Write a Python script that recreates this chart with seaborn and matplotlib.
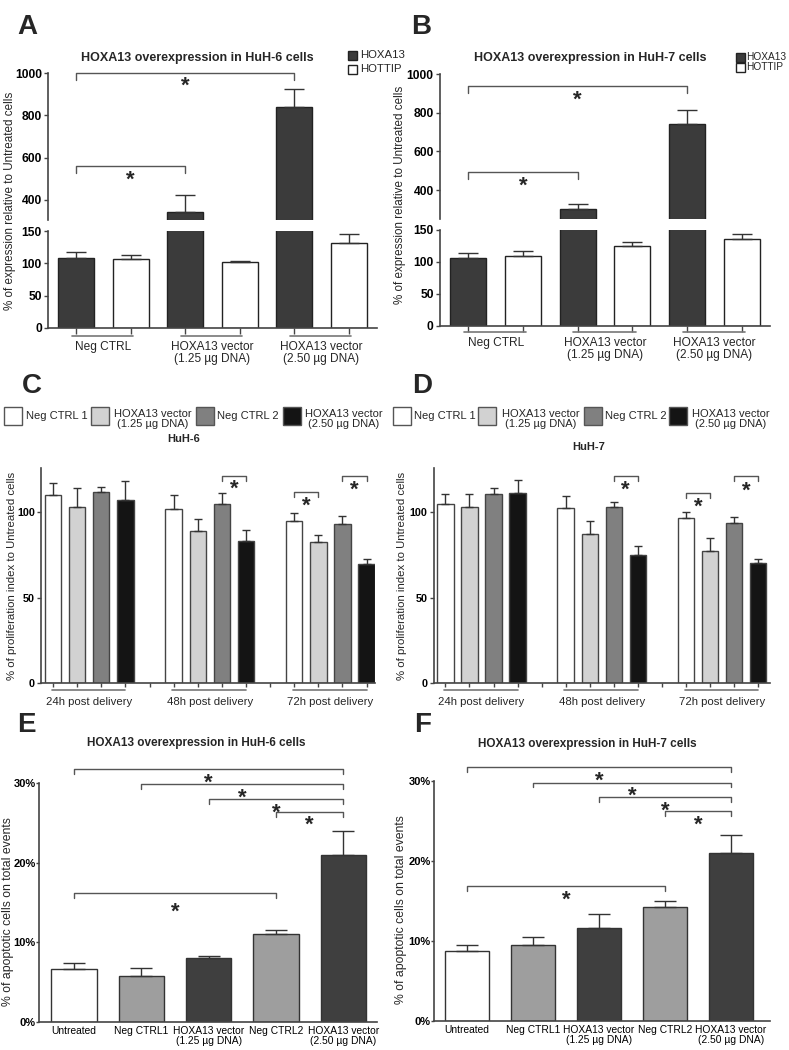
import numpy as np
import pandas as pd
import matplotlib
matplotlib.use("Agg")
import matplotlib.pyplot as plt
import seaborn as sns
from matplotlib.patches import Rectangle
from matplotlib.transforms import blended_transform_factory, offset_copy

# ---- A / B : HOXA13 and HOTTIP expression (% of untreated) ----
ab_groups = ["Neg CTRL", "HOXA13 vector\n(1.25 µg DNA)", "HOXA13 vector\n(2.50 µg DNA)"]
ab_genes = ["HOXA13", "HOTTIP"]
a_hoxa13 = [108, 342, 840]
a_hoxa13_err = [9, 82, 82]
a_hottip = [106, 102, 132]
a_hottip_err = [7, 2, 14]
b_hoxa13 = [107, 300, 741]
b_hoxa13_err = [7, 28, 72]
b_hottip = [110, 125, 136]
b_hottip_err = [7, 7, 8]

# ---- C / D : proliferation index ----
cd_times = ["24h post delivery", "48h post delivery", "72h post delivery"]
cd_conds = ["Neg CTRL 1", "HOXA13 vector\n(1.25 µg DNA)", "Neg CTRL 2", "HOXA13 vector\n(2.50 µg DNA)"]
c_neg1 = [110, 102, 95]
c_neg1_err = [7, 8, 4.5]
c_vec125 = [103, 89, 82.5]
c_vec125_err = [11, 7, 4]
c_neg2 = [112, 105, 93]
c_neg2_err = [3, 6.5, 5]
c_vec250 = [107, 83.5, 70]
c_vec250_err = [11.5, 6, 2.5]
d_neg1 = [104.7, 102.5, 96.9]
d_neg1_err = [6.3, 7.2, 3.5]
d_vec125 = [103.3, 87.3, 77.2]
d_vec125_err = [7.7, 7.7, 8]
d_neg2 = [111, 103, 93.6]
d_neg2_err = [3, 3, 3.9]
d_vec250 = [111.5, 75, 70.2]
d_vec250_err = [7.5, 5, 2.5]

# ---- E / F : apoptosis ----
ef_labels = ["Untreated", "Neg CTRL1", "HOXA13 vector\n(1.25 µg DNA)", "Neg CTRL2", "HOXA13 vector\n(2.50 µg DNA)"]
e_vals = [6.7, 5.8, 8.0, 11.0, 21.0]
e_err = [0.7, 1.0, 0.3, 0.6, 3.0]
f_vals = [8.8, 9.5, 11.6, 14.2, 21.0]
f_err = [0.7, 1.0, 1.8, 0.8, 2.2]

# brackets: (bar i, bar j, line height, star height)
a_brackets = [(0, 4, 1000, 967), (0, 2, 560, 527)]
b_brackets = [(0, 4, 938, 897), (0, 2, 495, 452)]
c_brackets = [(6, 7, 121.6, 117.5), (8, 9, 111.9, 107.6), (10, 11, 121.6, 117)]
d_brackets = [(6, 7, 121.1, 117), (8, 9, 111.3, 107), (10, 11, 121.1, 116.4)]
e_brackets = [(0, 4, 31.7, 30.8), (1, 4, 29.9, 28.9), (2, 4, 28.0, 27.1), (3, 4, 26.3, 25.5), (0, 3, 16.2, 14.6)]
f_brackets = [(0, 4, 31.7, 30.8), (1, 4, 29.8, 29.0), (2, 4, 28.0, 27.1), (3, 4, 26.2, 25.3), (0, 3, 16.9, 16.0)]

sns.set_theme(style="ticks")
plt.rcParams["font.family"] = ["Liberation Sans", "DejaVu Sans"]
plt.rcParams["axes.edgecolor"] = "#444444"
plt.rcParams["axes.linewidth"] = 1.2
plt.rcParams["xtick.color"] = "#444444"
plt.rcParams["ytick.color"] = "#444444"
plt.rcParams["xtick.labelcolor"] = "black"
plt.rcParams["ytick.labelcolor"] = "black"

W, H = 789, 1050
fig = plt.figure(figsize=(W / 100, H / 100), dpi=100)
fig.patch.set_facecolor("white")


def fy(py):
    return 1 - py / H


def ftext(px, py, s, **kw):
    fig.text(px / W, fy(py), s, **kw)


def px_axes(x0, y0, x1, y1):
    ax = fig.add_axes([x0 / W, 1 - y1 / H, (x1 - x0) / W, (y1 - y0) / H])
    ax.patch.set_alpha(0)
    return ax


def bar_centers(ax):
    bars = sorted((p for c in ax.containers for p in c), key=lambda p: p.get_x())
    return [p.get_x() + p.get_width() / 2 for p in bars], [p.get_height() for p in bars]


def add_err(ax, errs, cap):
    xs, hs = bar_centers(ax)
    ax.errorbar(xs, hs, yerr=[np.zeros(len(hs)), errs], fmt="none", ecolor="#333333",
                elinewidth=1, capsize=cap, capthick=1, zorder=3)
    return xs


def bracket(ax, xs, i, j, y, drop, ys, size=16):
    xa, xb = xs[i], xs[j]
    ax.plot([xa, xa, xb, xb], [y - drop, y, y, y - drop], color="#555555", lw=1, clip_on=False)
    tr = offset_copy(ax.transData, fig=fig, y=-0.55 * size, units="points")
    ax.text((xa + xb) / 2, ys, "*", ha="center", va="baseline", fontsize=size,
            fontweight="bold", transform=tr, clip_on=False)


def group_axis(ax, labels, line_y, span, label_y, fs, top=True):
    tr = blended_transform_factory(ax.transData, fig.transFigure)
    for g, lab in enumerate(labels):
        ax.plot([g + span[0], g + span[1]], [fy(line_y)] * 2, transform=tr,
                color="#777777", lw=1.2, clip_on=False)
        ax.text(g, fy(label_y), lab, transform=tr, ha="center",
                va="top" if top else "center", fontsize=fs, linespacing=1.05)


def expr_panel(xl, xr, top_px, bot_px, top_lim, hox, hox_err, hot, hot_err, brackets,
               line_y, span, drop):
    vals = [v for pair in zip(hox, hot) for v in pair]
    errs = [v for pair in zip(hox_err, hot_err) for v in pair]
    df = pd.DataFrame({"group": np.repeat(ab_groups, 2), "gene": ab_genes * 3, "value": vals})
    ax_t = px_axes(xl, top_px[0], xr, top_px[1])
    ax_b = px_axes(xl, bot_px[0], xr, bot_px[1])
    for ax in (ax_t, ax_b):
        sns.barplot(data=df, x="group", y="value", hue="gene", order=ab_groups, hue_order=ab_genes,
                    palette=["#3b3b3b", "white"], saturation=1, width=1.0, gap=0.34,
                    edgecolor="#222222", linewidth=1, errorbar=None, legend=False, ax=ax)
        xs = add_err(ax, errs, 7)
        ax.set_xlim(-0.51, 2.51)
        ax.set_xlabel("")
        ax.set_ylabel("")
        sns.despine(ax=ax)
        ax.tick_params(axis="y", length=3, width=1, pad=1.5)
    ax_t.set_ylim(top_lim, 1000)
    ax_t.set_yticks([400, 600, 800, 1000], labels=["400", "600", "800", "1000"],
                    fontweight="bold", fontsize=8.7)
    ax_t.spines["bottom"].set_visible(False)
    ax_t.tick_params(axis="x", bottom=False, labelbottom=False)
    ax_b.set_ylim(0, 150)
    ax_b.set_yticks([0, 50, 100, 150], labels=["0", "50", "100", "150"],
                    fontweight="bold", fontsize=8.7)
    ax_b.set_xticks(xs, labels=[""] * len(xs))
    ax_b.tick_params(axis="x", length=4, width=1)
    for i, j, y, ys in brackets:
        bracket(ax_t, xs, i, j, y, drop, ys)
    group_axis(ax_b, ab_groups, line_y, span, line_y + 5, 8.6)


def prolif_panel(xl, xr, xlim, series, series_err, brackets):
    vals, errs, times, conds = [], [], [], []
    for t in range(3):
        for k in range(4):
            vals.append(series[k][t])
            errs.append(series_err[k][t])
            times.append(cd_times[t])
            conds.append(cd_conds[k])
    df = pd.DataFrame({"time": times, "cond": conds, "value": vals})
    ax = px_axes(xl, 468, xr, 683)
    sns.barplot(data=df, x="time", y="value", hue="cond", order=cd_times, hue_order=cd_conds,
                palette=["white", "#d2d2d2", "#808080", "#141414"], saturation=1, width=0.8,
                gap=0.32, edgecolor="#444444", linewidth=1, errorbar=None, legend=False, ax=ax)
    xs = add_err(ax, errs, 3.2)
    ax.set_xlim(*xlim)
    ax.set_ylim(0, 126)
    ax.set_xlabel("")
    ax.set_ylabel("")
    sns.despine(ax=ax)
    ax.set_yticks([0, 50, 100], labels=["0", "50", "100"], fontweight="bold", fontsize=7.8)
    ax.set_xticks(np.arange(-0.3, 2.31, 0.2), labels=[""] * 14)
    ax.tick_params(axis="both", length=3, width=1, pad=1.5)
    for i, j, y, ys in brackets:
        bracket(ax, xs, i, j, y, 3, ys)
    group_axis(ax, cd_times, 690, (-0.31, 0.3), 702, 8.2, top=False)


def legend_cd(items):
    colors = ["white", "#d2d2d2", "#808080", "#141414"]
    for (bx, tx), col, lab in zip(items, colors, cd_conds):
        fig.add_artist(Rectangle((bx / W, fy(425)), 18 / W, 18 / H, transform=fig.transFigure,
                                 facecolor=col, edgecolor="#555555", lw=1))
        if "\n" in lab:
            ftext(tx, 409, lab, ha="left", va="top", fontsize=8, multialignment="center",
                  linespacing=1.0)
        else:
            ftext(tx, 416, lab, ha="left", va="center", fontsize=8)


def apopt_panel(xl, yt, xr, yb, xlim, vals, errs, brackets):
    df = pd.DataFrame({"label": ef_labels, "value": vals})
    ax = px_axes(xl, yt, xr, yb)
    sns.barplot(data=df, x="label", y="value", hue="label", order=ef_labels, hue_order=ef_labels,
                palette=["white", "#9e9e9e", "#3f3f3f", "#9e9e9e", "#3f3f3f"], saturation=1,
                width=0.67, edgecolor="#333333", linewidth=1, errorbar=None, legend=False, ax=ax)
    xs = add_err(ax, errs, 8)
    ax.set_xlim(*xlim)
    ax.set_ylim(0, 30)
    ax.set_xlabel("")
    ax.set_ylabel("")
    sns.despine(ax=ax)
    ax.set_yticks([0, 10, 20, 30], labels=["0%", "10%", "20%", "30%"], fontweight="bold", fontsize=8)
    ax.set_xticks(range(5), labels=ef_labels, fontsize=7.4, linespacing=1.0)
    ax.tick_params(axis="x", length=0, pad=3)
    ax.tick_params(axis="y", length=2, width=1, pad=0.5)
    for i, j, y, ys in brackets:
        bracket(ax, xs, i, j, y, 0.6, ys)


# ---- A ----
expr_panel(48, 377, (73, 220), (231, 328), 305, a_hoxa13, a_hoxa13_err, a_hottip, a_hottip_err,
           a_brackets, 336, (-0.29, 0.27), 33)
ftext(27, 27, "A", fontsize=20, fontweight="bold", ha="center", va="center")
ftext(197, 58, "HOXA13 overexpression in HuH-6 cells", fontsize=9, fontweight="bold",
      ha="center", va="center")
ftext(10, 201, "% of expression relative to Untreated cells", rotation=90, fontsize=8.4,
      ha="center", va="center")
for cy, col, lab in [(55.5, "#3b3b3b", "HOXA13"), (69.5, "white", "HOTTIP")]:
    fig.add_artist(Rectangle((348 / W, fy(cy + 4.5)), 9 / W, 9 / H, transform=fig.transFigure,
                             facecolor=col, edgecolor="#222222", lw=1))
    ftext(360, cy, lab, fontsize=8.2, ha="left", va="center")

# ---- B ----
expr_panel(440, 770, (74, 219), (230, 326), 250, b_hoxa13, b_hoxa13_err, b_hottip, b_hottip_err,
           b_brackets, 332, (-0.29, 0.28), 36)
ftext(421, 27, "B", fontsize=20, fontweight="bold", ha="center", va="center")
ftext(590, 58, "HOXA13 overexpression in HuH-7 cells", fontsize=9, fontweight="bold",
      ha="center", va="center")
ftext(400, 195, "% of expression relative to Untreated cells", rotation=90, fontsize=8.4,
      ha="center", va="center")
for cy, col, lab in [(57.5, "#3b3b3b", "HOXA13"), (67.5, "white", "HOTTIP")]:
    fig.add_artist(Rectangle((736 / W, fy(cy + 4.5)), 9 / W, 9 / H, transform=fig.transFigure,
                             facecolor=col, edgecolor="#222222", lw=1))
    ftext(746, cy, lab, fontsize=7.3, ha="left", va="center")

# ---- C ----
prolif_panel(41, 375, (-0.40, 2.37), [c_neg1, c_vec125, c_neg2, c_vec250],
             [c_neg1_err, c_vec125_err, c_neg2_err, c_vec250_err], c_brackets)
ftext(32, 386, "C", fontsize=20, fontweight="bold", ha="center", va="center")
ftext(184, 439, "HuH-6", fontsize=8, fontweight="bold", ha="center", va="center")
ftext(12, 576, "% of proliferation index to Untreated cells", rotation=90, fontsize=8.2,
      ha="center", va="center")
legend_cd([(4, 26), (91, 114), (196, 217), (283, 305)])

# ---- D ----
prolif_panel(434, 770, (-0.395, 2.40), [d_neg1, d_vec125, d_neg2, d_vec250],
             [d_neg1_err, d_vec125_err, d_neg2_err, d_vec250_err], d_brackets)
ftext(422, 386, "D", fontsize=20, fontweight="bold", ha="center", va="center")
ftext(589, 447, "HuH-7", fontsize=8, fontweight="bold", ha="center", va="center")
ftext(402, 576, "% of proliferation index to Untreated cells", rotation=90, fontsize=8.2,
      ha="center", va="center")
legend_cd([(393, 414), (478, 502), (584, 605), (669, 692)])

# ---- E ----
apopt_panel(39, 783, 377, 1022, (-0.52, 4.5), e_vals, e_err, e_brackets)
ftext(26, 725, "E", fontsize=20, fontweight="bold", ha="center", va="center")
ftext(196, 743, "HOXA13 overexpression in HuH-6 cells", fontsize=8.5, fontweight="bold",
      ha="center", va="center")
ftext(8, 912, "% of apoptotic cells on total events", rotation=90, fontsize=8.8,
      ha="center", va="center")

# ---- F ----
apopt_panel(434, 781, 770, 1021, (-0.5, 4.59), f_vals, f_err, f_brackets)
ftext(423, 725, "F", fontsize=20, fontweight="bold", ha="center", va="center")
ftext(587, 744, "HOXA13 overexpression in HuH-7 cells", fontsize=8.5, fontweight="bold",
      ha="center", va="center")
ftext(401, 910, "% of apoptotic cells on total events", rotation=90, fontsize=8.8,
      ha="center", va="center")

fig.savefig("out.png", dpi=100, facecolor="white")
